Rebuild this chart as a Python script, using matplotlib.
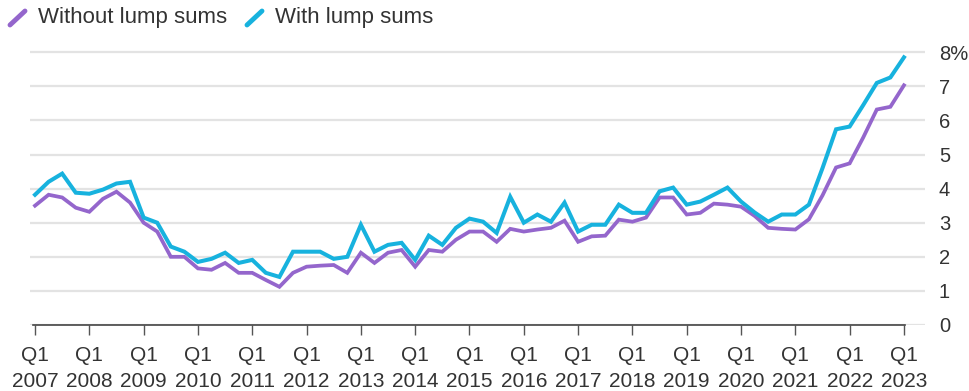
import numpy as np
import matplotlib
matplotlib.use("Agg")
import matplotlib.pyplot as plt
from matplotlib.lines import Line2D

plt.rcParams["font.family"] = ["Liberation Sans", "DejaVu Sans"]

# quarterly, Q1 2007 .. Q1 2023
years = list(range(2007, 2024))
tick_labels = ["Q1\n%d" % y for y in years]

with_lump = [3.82, 4.20, 4.44, 3.88,
             3.85, 3.97, 4.15, 4.20,
             3.15, 3.00, 2.30, 2.15,
             1.85, 1.94, 2.12, 1.82,
             1.91, 1.53, 1.41, 2.15,
             2.15, 2.15, 1.94, 2.00,
             2.94, 2.15, 2.35, 2.41,
             1.91, 2.62, 2.35, 2.85,
             3.12, 3.03, 2.70, 3.76,
             3.00, 3.24, 3.03, 3.59,
             2.74, 2.94, 2.94, 3.53,
             3.29, 3.29, 3.92, 4.03,
             3.53, 3.62, 3.82, 4.03,
             3.62, 3.30, 3.03, 3.24,
             3.24, 3.53, 4.60, 5.74,
             5.82, 6.45, 7.10, 7.26,
             7.85]

without_lump = [3.50, 3.82, 3.74, 3.44,
                3.32, 3.70, 3.91, 3.59,
                3.00, 2.74, 2.00, 2.00,
                1.66, 1.62, 1.82, 1.53,
                1.53, 1.32, 1.12, 1.53,
                1.71, 1.74, 1.76, 1.53,
                2.12, 1.82, 2.12, 2.20,
                1.71, 2.20, 2.15, 2.50,
                2.74, 2.74, 2.44, 2.82,
                2.74, 2.80, 2.85, 3.06,
                2.44, 2.60, 2.62, 3.09,
                3.03, 3.15, 3.74, 3.74,
                3.24, 3.29, 3.56, 3.53,
                3.47, 3.20, 2.85, 2.82,
                2.80, 3.10, 3.80, 4.62,
                4.74, 5.50, 6.32, 6.40,
                7.03]

cyan = "#17b2de"
purple = "#9466cc"
txt = "#333333"

W, H = 969, 391
fig = plt.figure(figsize=(W / 100, H / 100), dpi=100)
ax = fig.add_axes([30 / W, (H - 325) / H, 895 / W, 283 / H])

x = np.arange(len(with_lump))
ax.plot(x, without_lump, color=purple, lw=2.7, solid_joinstyle="miter", zorder=3)
ax.plot(x, with_lump, color=cyan, lw=2.9, solid_joinstyle="miter", zorder=4)

ax.set_xlim(-0.37, 65.55)
ax.set_ylim(0, 8.3)

ax.set_yticks(range(0, 9))
ax.set_yticklabels([str(v) for v in range(8)] + ["8%"])
ax.yaxis.tick_right()
ax.tick_params(axis="y", length=0, pad=10, labelsize=14.5, labelcolor=txt)
for lab in ax.get_yticklabels():
    lab.set_horizontalalignment("left")
ax.grid(axis="y", color="#e3e3e3", lw=1.6)
ax.set_axisbelow(True)

ax.set_xticks(range(0, len(x), 4))
ax.set_xticklabels(tick_labels, linespacing=1.45)
ax.tick_params(axis="x", length=7, width=1, color="#555555", pad=8,
               labelsize=15, labelcolor=txt)

for s in ["top", "right", "left"]:
    ax.spines[s].set_visible(False)
ax.spines["bottom"].set_color("#444444")
ax.spines["bottom"].set_linewidth(1.2)
ax.spines["bottom"].set_bounds(-0.15, 64.1)

# legend drawn by hand
def px(xp, yp):
    return xp / W, 1 - yp / H

for (x0, color, label) in [(10, purple, "Without lump sums"), (247, cyan, "With lump sums")]:
    a = px(x0, 25)
    b = px(x0 + 15, 11)
    fig.add_artist(Line2D([a[0], b[0]], [a[1], b[1]], color=color, lw=3.5,
                          solid_capstyle="round"))
    fig.text(*px(x0 + 28, 18), label, fontsize=16, color=txt, va="center")

fig.savefig("out.png", dpi=100)
